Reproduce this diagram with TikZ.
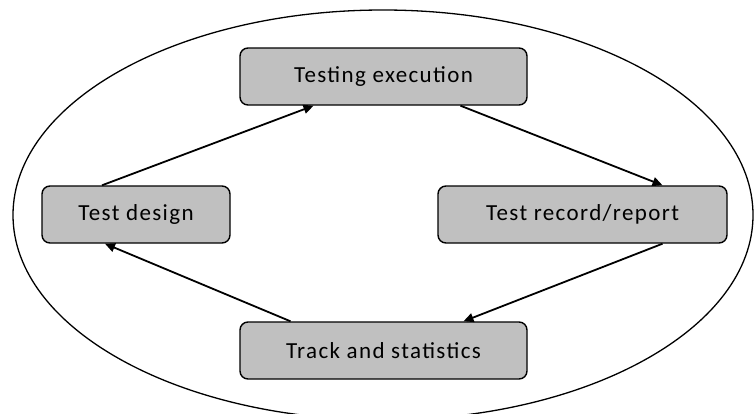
\documentclass[tikz,border=0pt]{standalone}
\usepackage{fontspec}
\setmainfont{Carlito}[LetterSpace=6]
\usetikzlibrary{arrows.meta}
\definecolor{boxgray}{HTML}{C0C0C0}

\tikzset{
  x=1pt, y=-1pt,
  stage/.style = {shape=rectangle, rounded corners=8pt,
                  draw, line width=1.4pt, fill=boxgray,
                  align=center, inner sep=0pt,
                  font=\fontsize{23}{27}\selectfont,
                  minimum height=57pt},
  flow/.style  = {draw, line width=1.8pt, -{Triangle[length=10pt,width=9pt]}}
}

\begin{document}
\begin{tikzpicture}
\useasboundingbox (0,0) rectangle (754,413);

\draw[line width=1.3pt] (383,215) ellipse [x radius=370pt, y radius=205pt];

\node [stage, minimum width=287pt] (exec)   at (383.5,76.5)  {Testing execution};
\node [stage, minimum width=188pt] (design) at (136,214.5) {Test design};
\node [stage, minimum width=289pt] (record) at (582.5,214.5) {Test record/report};
\node [stage, minimum width=287pt] (track)  at (383.5,350.5) {Track and statistics};

\draw [flow] ([xshift=-34pt]design.north) -- ([xshift=-70pt]exec.south);
\draw [flow] ([xshift=77pt]exec.south) -- ([xshift=80pt]record.north);
\draw [flow] ([xshift=80pt]record.south) -- ([xshift=80pt]track.north);
\draw [flow] ([xshift=-93pt]track.north) -- ([xshift=-31pt]design.south);
\end{tikzpicture}
\end{document}
